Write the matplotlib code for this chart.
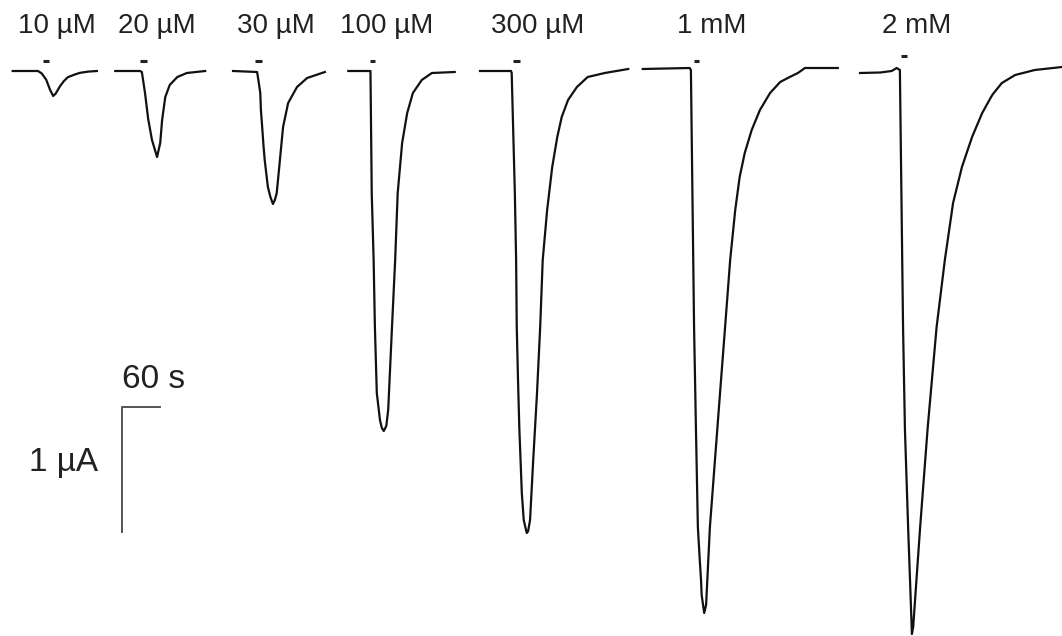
import matplotlib.pyplot as plt

# concentration labels
labels = ['10 µM', '20 µM', '30 µM', '100 µM', '300 µM', '1 mM', '2 mM']
label_t = [90, 248, 436, 611, 849, 1124, 1448]

# current traces, time in s, current in uA (inward = negative)
t1 = [20, 60, 66, 73, 79, 84, 88, 95, 101, 107, 117, 126, 139, 153]
i1 = [0, 0, -0.02, -0.07, -0.15, -0.20, -0.18, -0.12, -0.08, -0.05, -0.03, -0.015, -0.005, 0]

t2 = [182, 221, 224, 229, 234, 240, 248, 253, 256, 261, 268, 280, 295, 324]
i2 = [0, 0, -0.008, -0.176, -0.384, -0.552, -0.688, -0.576, -0.392, -0.208, -0.112, -0.048,
      -0.016, 0]

t3 = [368, 406, 408, 411, 412, 414, 416, 418, 423, 427, 431, 434, 437, 442, 447, 455, 469, 485, 513]
i3 = [0, -0.008, -0.072, -0.176, -0.312, -0.448, -0.592, -0.712, -0.928, -1.008, -1.064, -1.032,
      -0.976, -0.712, -0.448, -0.256, -0.128, -0.056, -0.008]

t4 = [550, 585, 587, 590, 592, 595, 600, 603, 606, 610, 613, 619, 624, 628, 635, 643, 652, 666,
      682, 718]
i4 = [0, 0, -0.976, -1.512, -2.048, -2.576, -2.792, -2.856, -2.88, -2.84, -2.712, -2.048, -1.512,
      -0.976, -0.576, -0.336, -0.176, -0.072, -0.016, -0.008]

t5 = [758, 807, 808, 813, 815, 816, 818, 820, 824, 827, 831, 832, 834, 837, 842, 848, 853, 857,
      864, 872, 880, 887, 897, 911, 928, 955, 992]
i5 = [0, 0, -0.016, -0.976, -1.512, -2.048, -2.472, -2.848, -3.376, -3.592, -3.68, -3.696, -3.68,
      -3.592, -3.112, -2.576, -2.048, -1.512, -1.112, -0.768, -0.528, -0.368, -0.232, -0.128,
      -0.048, -0.016, 0.016]

t6 = [1015, 1089, 1091, 1096, 1099, 1102, 1105, 1107, 1108, 1112, 1115, 1121, 1129, 1137, 1145,
      1153, 1161, 1168, 1176, 1187, 1200, 1216, 1232, 1247, 1260, 1271, 1323]
i6 = [0.016, 0.024, 0.008, -2.048, -2.872, -3.648, -3.912, -4.072, -4.192, -4.336, -4.272,
      -3.648, -3.112, -2.576, -2.048, -1.512, -1.112, -0.848, -0.656, -0.472, -0.312, -0.176,
      -0.088, -0.048, -0.016, 0.024, 0.024]

t7 = [1358, 1390, 1408, 1416, 1421, 1426, 1429, 1434, 1437, 1440, 1442, 1453, 1465, 1479, 1492,
      1505, 1519, 1535, 1551, 1565, 1568, 1582, 1603, 1634, 1677]
i7 = [-0.016, -0.012, 0, 0.024, 0.008, -2.048, -2.872, -3.648, -4.072, -4.504, -4.448, -3.648,
      -2.848, -2.048, -1.512, -1.056, -0.768, -0.528, -0.336, -0.208, -0.184, -0.096, -0.032,
      0.008, 0.032]

traces = [(t1, i1), (t2, i2), (t3, i3), (t4, i4), (t5, i5), (t6, i6), (t7, i7)]

# agonist application bars (start, end in s)
app_on = [68, 221, 403, 584, 810, 1096, 1423]
app_off = [77, 232, 414, 592, 821, 1104, 1432]
app_lvl = [0.08, 0.08, 0.08, 0.08, 0.08, 0.08, 0.12]

fig = plt.figure(figsize=(10.62, 6.36), dpi=100)
ax = fig.add_axes([0, 0, 1, 1])
ax.set_xlim(0, 1677)
ax.set_ylim(-4.52, 0.568)
ax.axis('off')

fnt = ['Liberation Sans', 'DejaVu Sans']

for (t, cur) in traces:
    ax.plot(t, cur, color='#111111', lw=1.6, solid_joinstyle='round')

for k in range(len(app_on)):
    ax.plot([app_on[k], app_off[k]], [app_lvl[k], app_lvl[k]], color='#222222', lw=2.2,
            solid_capstyle='butt')
    ax.text(label_t[k], 0.304, labels[k], ha='center', va='baseline', fontsize=20,
            color='#222222', family=fnt)

# scale bar: 60 s, 1 uA
sb_t = 193
sb_i = -2.688
ax.plot([sb_t + 60, sb_t, sb_t], [sb_i, sb_i, sb_i - 1], color='#555555', lw=1.4)
ax.text(sb_t, sb_i + 0.224, '60 s', ha='left', va='center', fontsize=24,
        color='#222222', family=fnt)
ax.text(sb_t - 38, sb_i - 0.44, '1 µA', ha='right', va='center', fontsize=24,
        color='#222222', family=fnt)

fig.savefig('out.png', dpi=100)
